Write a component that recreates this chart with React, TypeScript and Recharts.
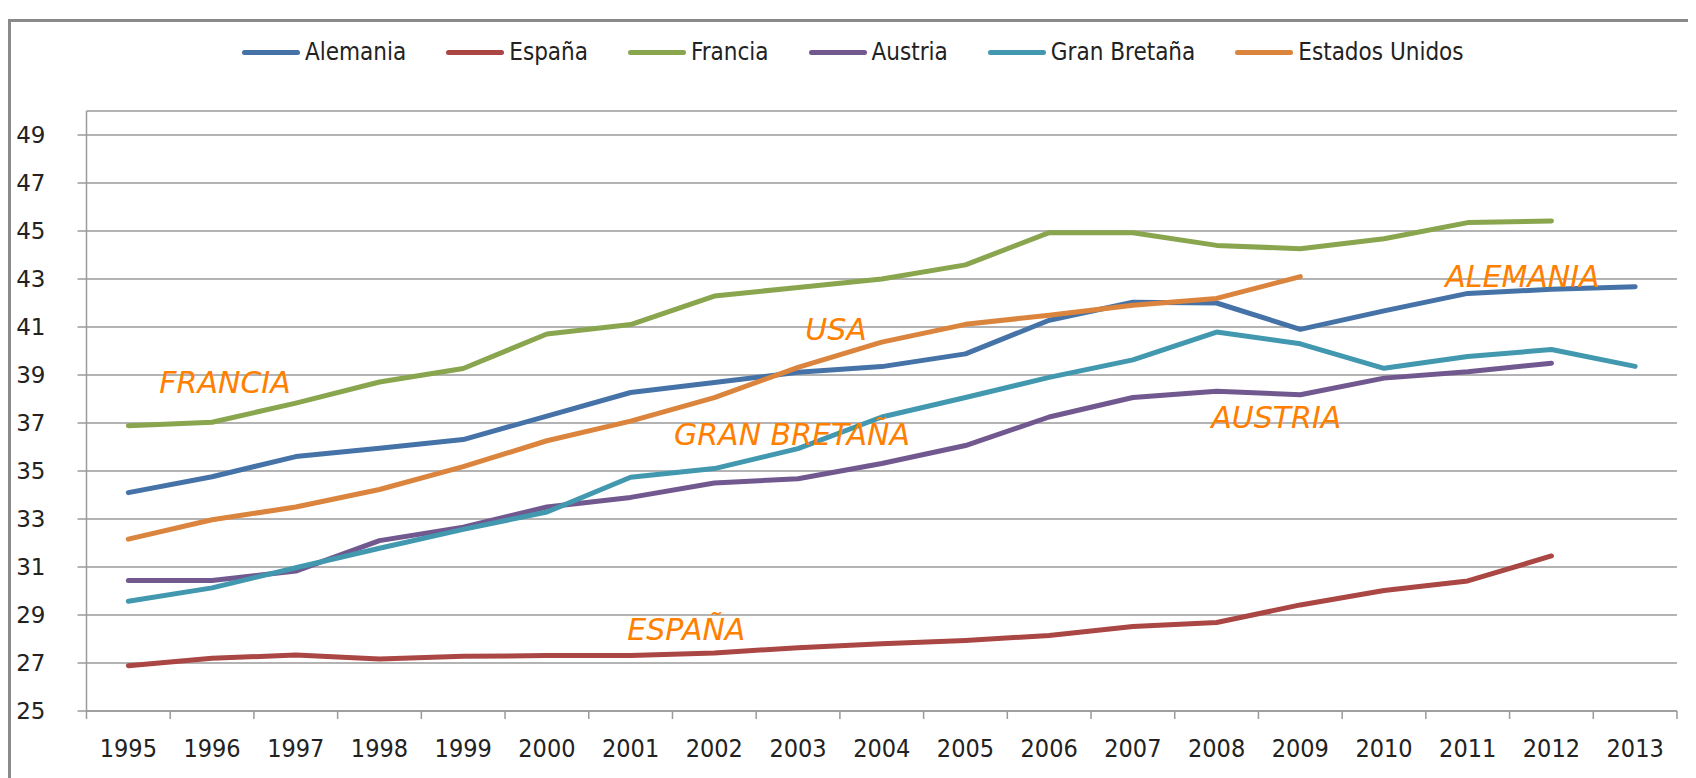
import { LineChart, Line, XAxis, YAxis, CartesianGrid, Legend, ReferenceDot } from 'recharts';

const YEARS = ['1995', '1996', '1997', '1998', '1999', '2000', '2001', '2002', '2003', '2004', '2005', '2006', '2007', '2008', '2009', '2010', '2011', '2012', '2013'];

const ALEMANIA = [34.1, 34.76, 35.6, 35.95, 36.31, 37.29, 38.27, 38.69, 39.11, 39.35, 39.88, 41.28, 42.03, 42.0, 40.9, 41.67, 42.4, 42.57, 42.68];
const ESPANA = [26.89, 27.2, 27.33, 27.17, 27.28, 27.31, 27.31, 27.42, 27.64, 27.8, 27.94, 28.15, 28.52, 28.69, 29.42, 30.02, 30.42, 31.46, null];
const FRANCIA = [36.89, 37.03, 37.83, 38.71, 39.27, 40.71, 41.1, 42.29, 42.65, 43.0, 43.59, 44.93, 44.93, 44.4, 44.26, 44.68, 45.35, 45.42, null];
const AUSTRIA = [30.44, 30.44, 30.83, 32.1, 32.66, 33.5, 33.9, 34.5, 34.68, 35.31, 36.06, 37.25, 38.06, 38.32, 38.18, 38.87, 39.14, 39.49, null];
const GRAN_BRETANA = [29.57, 30.13, 30.97, 31.78, 32.57, 33.29, 34.74, 35.1, 35.93, 37.25, 38.06, 38.9, 39.63, 40.79, 40.3, 39.28, 39.77, 40.06, 39.36];
const ESTADOS_UNIDOS = [32.16, 32.97, 33.5, 34.23, 35.18, 36.26, 37.08, 38.06, 39.32, 40.37, 41.11, 41.49, 41.91, 42.19, 43.1, null, null, null, null];

const Y_TICKS = [25, 27, 29, 31, 33, 35, 37, 39, 41, 43, 45, 47, 49];

const SERIES = [
  { key: 'alemania', name: 'Alemania', color: '#4572A7', values: ALEMANIA },
  { key: 'espana', name: 'España', color: '#AA4643', values: ESPANA },
  { key: 'francia', name: 'Francia', color: '#89A54E', values: FRANCIA },
  { key: 'austria', name: 'Austria', color: '#71588F', values: AUSTRIA },
  { key: 'granBretana', name: 'Gran Bretaña', color: '#4198AF', values: GRAN_BRETANA },
  { key: 'estadosUnidos', name: 'Estados Unidos', color: '#DB843D', values: ESTADOS_UNIDOS },
];

// etiquetas naranjas dentro del gráfico
const NOTES = [
  { text: 'FRANCIA', year: '1996', value: 38.25, dx: 13 },
  { text: 'USA', year: '2003', value: 40.46, dx: 38 },
  { text: 'GRAN BRETAÑA', year: '2003', value: 36.08, dx: -6 },
  { text: 'ESPAÑA', year: '2002', value: 27.96, dx: -28 },
  { text: 'AUSTRIA', year: '2009', value: 36.79, dx: -24 },
  { text: 'ALEMANIA', year: '2012', value: 42.67, dx: -29 },
];

const data = YEARS.map((year, i) => {
  const row: Record<string, string | number | null> = { year };
  SERIES.forEach((s) => {
    row[s.key] = s.values[i];
  });
  return row;
});

const WIDTH = 1680;
const HEIGHT = 760;
const MARGIN = { top: 10, right: 14, left: 10.5, bottom: 21 };
const Y_AXIS_WIDTH = 65;
const PLOT_WIDTH = WIDTH - MARGIN.left - MARGIN.right - Y_AXIS_WIDTH;
const HALF_BAND = PLOT_WIDTH / YEARS.length / 2;

const AXIS_COLOR = '#9a9a9a';
const LABEL_FONT = '"DejaVu Sans Condensed", "DejaVu Sans", sans-serif';

function YearTick(props: any) {
  const { x, y, payload, index } = props;
  const last = index === YEARS.length - 1;
  return (
    <g>
      <line x1={x - HALF_BAND} y1={y} x2={x - HALF_BAND} y2={y + 8} stroke={AXIS_COLOR} strokeWidth={1.5} />
      {last && <line x1={x + HALF_BAND} y1={y} x2={x + HALF_BAND} y2={y + 8} stroke={AXIS_COLOR} strokeWidth={1.5} />}
      <text x={x} y={y + 37} textAnchor="middle" dominantBaseline="central" fontFamily={LABEL_FONT} fontSize={25} fill="#222">
        {payload.value}
      </text>
    </g>
  );
}

function renderLegend() {
  return (
    <div style={{ height: 79, display: 'flex', alignItems: 'flex-start', paddingLeft: 231, boxSizing: 'border-box' }}>
      {SERIES.map((s) => (
        <div key={s.key} style={{ display: 'flex', alignItems: 'center', height: 40, marginRight: 40 }}>
          <span style={{ display: 'inline-block', width: 58, height: 5, borderRadius: 3, background: s.color, marginRight: 5 }} />
          <span style={{ fontFamily: LABEL_FONT, fontSize: 24, color: '#222', whiteSpace: 'nowrap' }}>{s.name}</span>
        </div>
      ))}
    </div>
  );
}

function noteLabel(text: string, dx: number) {
  return (props: any) => {
    const vb = props.viewBox || {};
    const cx = vb.x + (vb.width || 0) / 2;
    const cy = vb.y + (vb.height || 0) / 2;
    return (
      <text
        x={cx + dx}
        y={cy}
        textAnchor="middle"
        fontFamily='"DejaVu Sans", sans-serif'
        fontStyle="italic"
        fontWeight={200}
        fontSize={30}
        fill="#FF8000"
      >
        {text}
      </text>
    );
  };
}

export default function App() {
  return (
    <div style={{ paddingTop: 11 }}>
      <div style={{ width: WIDTH, height: 780, border: '3px solid #8a8a8a', background: '#fff', overflow: 'hidden' }}>
        <LineChart width={WIDTH} height={HEIGHT} data={data} margin={MARGIN}>
          <CartesianGrid vertical={false} stroke={AXIS_COLOR} strokeWidth={1.5} />
          <XAxis
            dataKey="year"
            scale="point"
            padding={{ left: HALF_BAND, right: HALF_BAND }}
            height={50}
            stroke={AXIS_COLOR}
            strokeWidth={1.5}
            tickLine={false}
            tickSize={0}
            tickMargin={0}
            interval={0}
            tick={<YearTick />}
          />
          <YAxis
            type="number"
            domain={[25, 50]}
            ticks={Y_TICKS}
            interval={0}
            width={Y_AXIS_WIDTH}
            stroke={AXIS_COLOR}
            strokeWidth={1.5}
            tickSize={9}
            tickMargin={32}
            tick={{ fontFamily: '"DejaVu Sans", sans-serif', fontSize: 23, fill: '#222' }}
          />
          <Legend verticalAlign="top" content={renderLegend} wrapperStyle={{ left: 0, width: WIDTH }} />
          {SERIES.map((s) => (
            <Line
              key={s.key}
              type="linear"
              dataKey={s.key}
              name={s.name}
              stroke={s.color}
              strokeWidth={5}
              strokeLinecap="round"
              strokeLinejoin="round"
              dot={false}
              activeDot={false}
              isAnimationActive={false}
            />
          ))}
          {NOTES.map((n) => (
            <ReferenceDot
              key={n.text}
              x={n.year}
              y={n.value}
              r={0}
              fill="none"
              stroke="none"
              label={noteLabel(n.text, n.dx)}
            />
          ))}
        </LineChart>
      </div>
    </div>
  );
}
